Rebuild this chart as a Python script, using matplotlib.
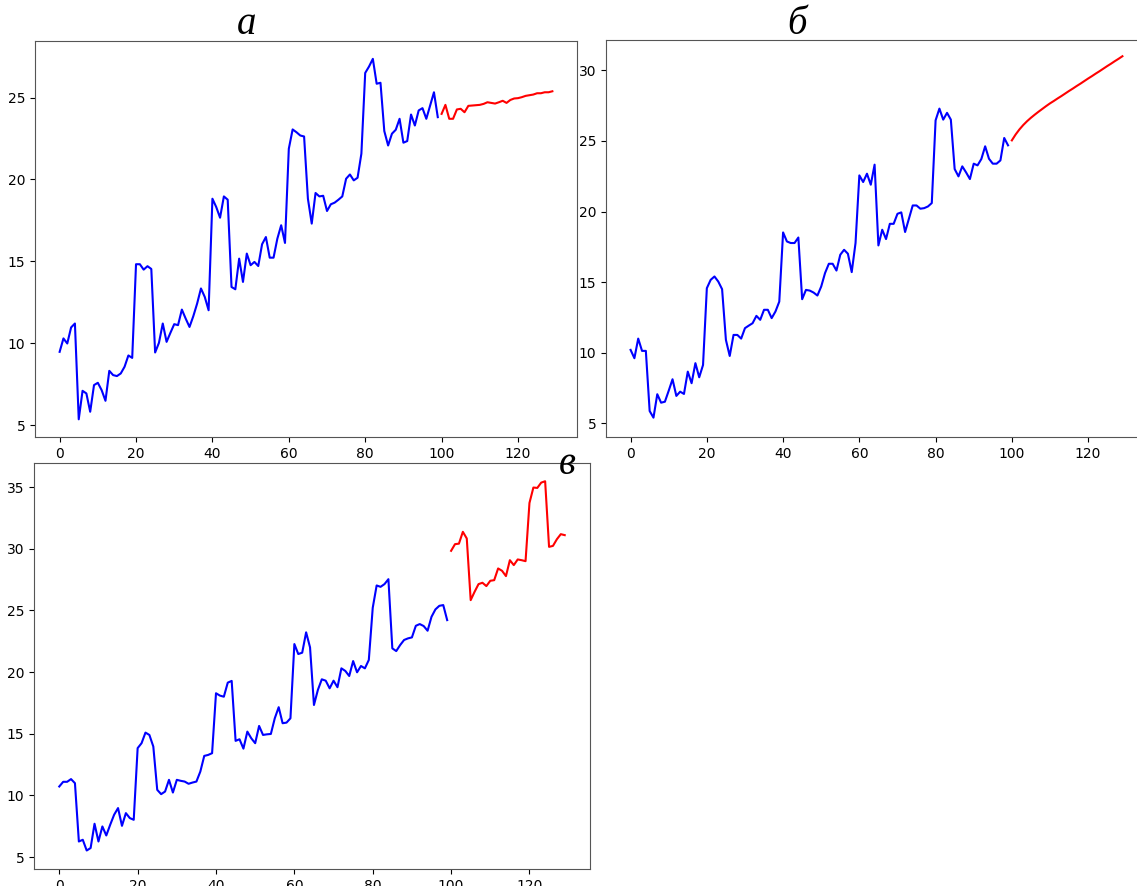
import numpy as np
import matplotlib
matplotlib.use("Agg")
import matplotlib.pyplot as plt

W, H = 1137, 886

# series a: observed values and forecast
a_hist = [9.47, 10.29, 9.98, 10.96, 11.2, 5.35, 7.09, 6.93, 5.81, 7.44,
          7.58, 7.13, 6.48, 8.31, 8.05, 7.99, 8.15, 8.56, 9.25, 9.10,
          14.82, 14.82, 14.49, 14.70, 14.53, 9.43, 10.02, 11.2, 10.08, 10.63,
          11.16, 11.1, 12.05, 11.5, 10.99, 11.65, 12.42, 13.34, 12.82, 12.01,
          18.82, 18.31, 17.66, 18.96, 18.76, 13.43, 13.29, 15.16, 13.74, 15.47,
          14.76, 14.96, 14.71, 16.04, 16.48, 15.22, 15.22, 16.38, 17.20, 16.12,
          21.87, 23.05, 22.88, 22.68, 22.62, 18.82, 17.30, 19.17, 18.96, 19.0,
          18.07, 18.48, 18.58, 18.76, 18.96, 20.04, 20.30, 19.94, 20.10, 21.57,
          26.5, 26.89, 27.36, 25.84, 25.9, 22.95, 22.07, 22.79, 23.03, 23.7,
          22.24, 22.34, 23.96, 23.29, 24.21, 24.35, 23.70, 24.51, 25.32, 23.80]
a_pred = [24.0, 24.55, 23.70, 23.70, 24.27, 24.31, 24.1, 24.49, 24.51, 24.53,
          24.55, 24.61, 24.71, 24.67, 24.63, 24.71, 24.80, 24.67, 24.85, 24.94,
          24.96, 25.02, 25.10, 25.14, 25.18, 25.26, 25.26, 25.32, 25.32, 25.38]

# series b
b_hist = [10.2, 9.61, 11.0, 10.13, 10.13, 5.87, 5.40, 7.06, 6.46, 6.53,
          7.31, 8.12, 6.94, 7.24, 7.08, 8.66, 7.84, 9.26, 8.26, 9.13,
          14.57, 15.16, 15.40, 15.04, 14.50, 10.91, 9.77, 11.26, 11.26, 11.0,
          11.74, 11.92, 12.09, 12.61, 12.33, 13.04, 13.04, 12.45, 12.92, 13.62,
          18.52, 17.88, 17.77, 17.77, 18.16, 13.79, 14.45, 14.40, 14.26, 14.05,
          14.69, 15.64, 16.30, 16.30, 15.82, 16.94, 17.29, 17.01, 15.71, 17.77,
          22.56, 22.09, 22.68, 21.90, 23.32, 17.6, 18.71, 18.05, 19.13, 19.13,
          19.84, 19.94, 18.55, 19.49, 20.43, 20.43, 20.20, 20.24, 20.36, 20.60,
          26.46, 27.29, 26.51, 26.99, 26.51, 23.01, 22.49, 23.2, 22.77, 22.3,
          23.39, 23.27, 23.72, 24.62, 23.74, 23.39, 23.39, 23.62, 25.21, 24.69]
b_pred = [25.04, 25.46, 25.82, 26.13, 26.40, 26.64, 26.86, 27.07, 27.27, 27.47,
          27.66, 27.83, 28.01, 28.18, 28.36, 28.54, 28.71, 28.89, 29.06, 29.24,
          29.42, 29.59, 29.77, 29.94, 30.12, 30.30, 30.47, 30.65, 30.82, 31.00]

# series c
c_hist = [10.72, 11.10, 11.10, 11.32, 10.99, 6.26, 6.40, 5.53, 5.73, 7.70,
          6.26, 7.48, 6.75, 7.62, 8.43, 8.97, 7.53, 8.56, 8.16, 8.02,
          13.83, 14.23, 15.09, 14.90, 13.96, 10.45, 10.10, 10.31, 11.26, 10.23,
          11.26, 11.18, 11.12, 10.94, 11.04, 11.12, 11.93, 13.20, 13.28, 13.42,
          18.28, 18.09, 18.0, 19.14, 19.28, 14.42, 14.55, 13.79, 15.17, 14.63,
          14.23, 15.63, 14.90, 14.95, 14.98, 16.25, 17.15, 15.85, 15.9, 16.25,
          22.27, 21.46, 21.57, 23.22, 22.0, 17.33, 18.55, 19.41, 19.30, 18.68,
          19.30, 18.77, 20.30, 20.09, 19.68, 20.89, 19.98, 20.49, 20.30, 20.98,
          25.21, 27.02, 26.91, 27.13, 27.53, 21.92, 21.70, 22.19, 22.60, 22.73,
          22.81, 23.75, 23.89, 23.73, 23.35, 24.48, 25.08, 25.37, 25.43, 24.21]
c_pred = [29.83, 30.37, 30.41, 31.37, 30.83, 25.83, 26.51, 27.13, 27.24, 26.97,
          27.40, 27.45, 28.40, 28.21, 27.78, 29.07, 28.67, 29.13, 29.07, 28.99,
          33.71, 34.96, 34.93, 35.36, 35.47, 30.15, 30.23, 30.77, 31.18, 31.1]

titles = ["а", "б", "в"]


def px_axes(fig, left, top, right, bottom):
    return fig.add_axes([left / W, 1 - bottom / H, (right - left) / W, (bottom - top) / H])


fig = plt.figure(figsize=(W / 100, H / 100), dpi=100)

ax1 = px_axes(fig, 35, 41, 577, 437)
ax2 = px_axes(fig, 606, 40, 1147, 437)
ax3 = px_axes(fig, 34, 463, 590, 869)

for ax, hist, pred in [(ax1, a_hist, a_pred), (ax2, b_hist, b_pred), (ax3, c_hist, c_pred)]:
    x_hist = np.arange(len(hist))
    x_pred = np.arange(len(hist), len(hist) + len(pred))
    ax.plot(x_hist, hist, color="blue")
    ax.plot(x_pred, pred, color="red")
    ax.set_xticks([0, 20, 40, 60, 80, 100, 120])
    ax.set_yticks([5, 10, 15, 20, 25, 30, 35])
    for s in ax.spines.values():
        s.set_color("#555555")

ax1.set_ylim(4.27, 28.45)
ax2.set_ylim(4.03, 32.15)
ax3.set_ylim(4.03, 36.95)

title_font = dict(family="Liberation Serif", style="italic", fontsize=28,
                  ha="center", va="center")
fig.text(247 / W, 1 - 24 / H, titles[0], **title_font)
fig.text(797 / W, 1 - 24 / H, titles[1], **title_font)
fig.text(567 / W, 1 - 464 / H, titles[2], **title_font)

fig.savefig("out.png", dpi=100)
